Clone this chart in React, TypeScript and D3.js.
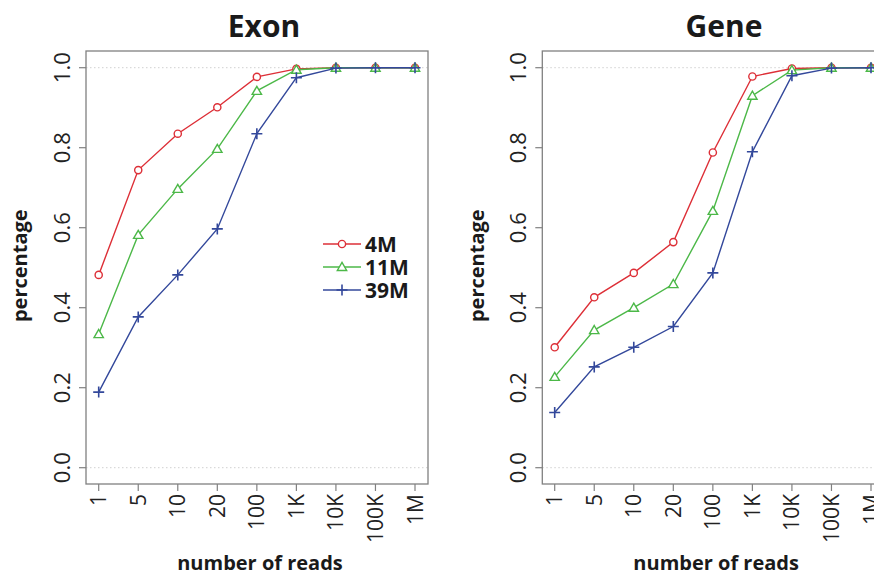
import React from 'react';
import * as d3 from 'd3';

// chart data
const readLabels = ['1', '5', '10', '20', '100', '1K', '10K', '100K', '1M'];
const seriesNames = ['4M', '11M', '39M'];
const yTicks = [0, 0.2, 0.4, 0.6, 0.8, 1.0];

const exon4M = [0.482, 0.744, 0.835, 0.901, 0.977, 0.997, 1, 1, 1];
const exon11M = [0.334, 0.582, 0.697, 0.797, 0.942, 0.995, 1, 1, 1];
const exon39M = [0.189, 0.377, 0.482, 0.597, 0.835, 0.975, 0.999, 1, 1];

const gene4M = [0.301, 0.426, 0.487, 0.564, 0.788, 0.978, 0.998, 1, 1];
const gene11M = [0.227, 0.344, 0.4, 0.459, 0.642, 0.93, 0.994, 1, 1];
const gene39M = [0.138, 0.252, 0.301, 0.353, 0.487, 0.79, 0.98, 0.999, 1];

const colors = ['#dd2f37', '#4cb848', '#33489b'];
const font = "'Open Sans', 'Liberation Sans', sans-serif";
const axisColor = '#808080';

const W = 874;
const H = 577;
const plotTop = 51;
const plotBottom = 484;
const yScale = d3.scaleLinear().domain([0, 1]).range([467.7, 67.7]);

type PanelProps = {
  title: string;
  titleX: number;
  boxLeft: number;
  boxRight: number;
  firstX: number;
  lastX: number;
  ylabelX: number;
  series: number[][];
  legend?: boolean;
};

function Marker({ kind, x, y, color }: { kind: number; x: number; y: number; color: string }) {
  if (kind === 0) {
    return <circle cx={x} cy={y} r={3.6} fill="#fff" stroke={color} strokeWidth={1.4} />;
  }
  if (kind === 1) {
    const tri = d3.symbol().type(d3.symbolTriangle).size(38)();
    return <path d={tri || ''} transform={`translate(${x},${y + 0.8})`} fill="#fff" stroke={color} strokeWidth={1.4} />;
  }
  return (
    <path d={`M${x - 5.5},${y}H${x + 5.5}M${x},${y - 5.5}V${y + 5.5}`} stroke={color} strokeWidth={1.6} fill="none" />
  );
}

function Panel(p: PanelProps) {
  const xScale = d3.scalePoint<string>().domain(readLabels).range([p.firstX, p.lastX]);
  const line = d3
    .line<number>()
    .x((_, i) => xScale(readLabels[i]) as number)
    .y((d) => yScale(d));
  const axisLeft = p.boxLeft;
  const midY = (yScale(0) + yScale(1)) / 2;
  const midX = (p.boxLeft + p.boxRight) / 2;

  return (
    <g>
      <text x={p.titleX} y={37} textAnchor="middle" fontFamily={font} fontWeight="bold" fontSize={30} fill="#1a1a1a">
        {p.title}
      </text>

      {/* dotted reference lines at 0 and 1 */}
      {[0, 1].map((v) => (
        <line key={v} x1={p.boxLeft} x2={p.boxRight} y1={yScale(v)} y2={yScale(v)} stroke="#d0d0d0" strokeDasharray="1.5,2.5" />
      ))}

      <rect x={p.boxLeft} y={plotTop} width={p.boxRight - p.boxLeft} height={plotBottom - plotTop} fill="none" stroke={axisColor} strokeWidth={1.3} />

      {/* y axis */}
      {yTicks.map((t) => (
        <g key={t}>
          <line x1={axisLeft - 7} x2={axisLeft} y1={yScale(t)} y2={yScale(t)} stroke={axisColor} strokeWidth={1.2} />
          <text
            transform={`translate(${axisLeft - 16},${yScale(t)}) rotate(-90)`}
            textAnchor="middle"
            fontFamily={font}
            fontSize={22}
            fill="#222"
          >
            {t.toFixed(1)}
          </text>
        </g>
      ))}
      <text
        transform={`translate(${p.ylabelX},${midY - 2}) rotate(-90)`}
        textAnchor="middle"
        dy="0.35em"
        fontFamily={font}
        fontWeight="bold"
        fontSize={20}
        fill="#1a1a1a"
      >
        percentage
      </text>

      {/* x axis */}
      {readLabels.map((l) => {
        const x = xScale(l) as number;
        return (
          <g key={l}>
            <line x1={x} x2={x} y1={plotBottom} y2={plotBottom + 7} stroke={axisColor} strokeWidth={1.2} />
            <text
              transform={`translate(${x},${plotBottom + 10}) rotate(-90)`}
              textAnchor="end"
              dy="0.36em"
              fontFamily={font}
              fontSize={21}
              fill="#222"
            >
              {l}
            </text>
          </g>
        );
      })}
      <text x={midX + 3} y={570} textAnchor="middle" fontFamily={font} fontWeight="bold" fontSize={20} fill="#1a1a1a">
        number of reads
      </text>

      {/* series */}
      {p.series.map((s, k) => (
        <g key={k}>
          <path d={line(s) || ''} fill="none" stroke={colors[k]} strokeWidth={1.4} />
          {s.map((v, i) => (
            <Marker key={i} kind={k} x={xScale(readLabels[i]) as number} y={yScale(v)} color={colors[k]} />
          ))}
        </g>
      ))}

      {p.legend &&
        seriesNames.map((name, k) => {
          const y = 244 + k * 23;
          return (
            <g key={name}>
              <line x1={323} x2={361} y1={y} y2={y} stroke={colors[k]} strokeWidth={1.4} />
              <Marker kind={k} x={342} y={y} color={colors[k]} />
              <text x={365} y={y} dy="0.36em" fontFamily={font} fontWeight="bold" fontSize={21} fill="#1a1a1a">
                {name}
              </text>
            </g>
          );
        })}
    </g>
  );
}

export default function App() {
  return (
    <svg width={W} height={H} style={{ position: 'absolute', left: 0, top: 0, background: '#fff' }}>
      <rect width={W} height={H} fill="#fff" />
      <Panel
        title="Exon"
        titleX={264}
        boxLeft={86}
        boxRight={428}
        firstX={98.7}
        lastX={415}
        ylabelX={20}
        series={[exon4M, exon11M, exon39M]}
        legend
      />
      <Panel
        title="Gene"
        titleX={724}
        boxLeft={542.3}
        boxRight={884}
        firstX={554.7}
        lastX={871}
        ylabelX={477}
        series={[gene4M, gene11M, gene39M]}
      />
    </svg>
  );
}
